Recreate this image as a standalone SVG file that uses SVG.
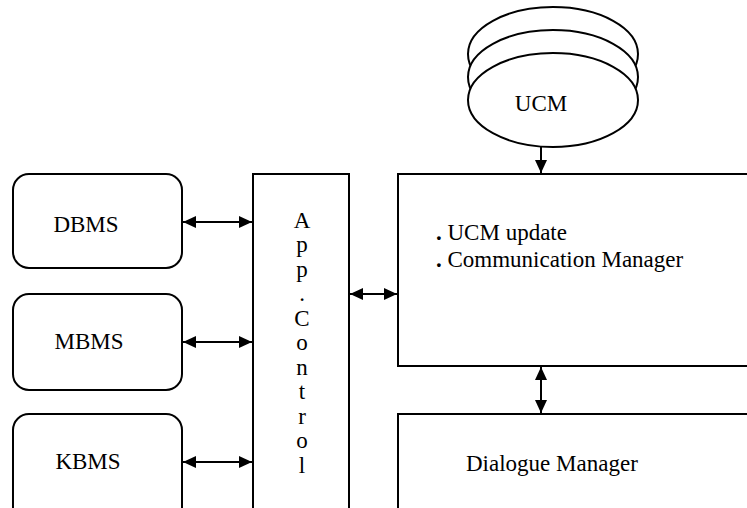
<svg xmlns="http://www.w3.org/2000/svg" width="747" height="508" viewBox="0 0 747 508">
<style>
.box{fill:#fff;stroke:#000;stroke-width:2}
.ell{fill:#fff;stroke:#000;stroke-width:2}
.t{font-family:'Liberation Serif','Times New Roman','DejaVu Serif',serif;font-size:23px;fill:#000}
.c{text-anchor:middle}
.ln{stroke:#000;stroke-width:2;fill:none}
</style>
<defs>
<marker id="ah" markerUnits="userSpaceOnUse" markerWidth="14" markerHeight="14" viewBox="0 0 14 14" refX="13" refY="7" orient="auto-start-reverse">
<path d="M0,1 L13,7 L0,13 z" fill="#000"/>
</marker>
</defs>
<rect width="747" height="508" fill="#fff"/>
<g id="ucm">
<ellipse class="ell" cx="553" cy="54" rx="85" ry="47"/>
<ellipse class="ell" cx="553" cy="77" rx="85" ry="47"/>
<ellipse class="ell" cx="553" cy="100" rx="85" ry="47"/>
<text class="t c" x="541" y="111">UCM</text>
</g>
<g id="dbms">
<rect class="box" x="13" y="174" width="169" height="94" rx="16"/>
<text class="t c" x="86" y="232">DBMS</text>
</g>
<g id="mbms">
<rect class="box" x="13" y="294" width="169" height="96" rx="16"/>
<text class="t c" x="89" y="349">MBMS</text>
</g>
<g id="kbms">
<rect class="box" x="13" y="414" width="169" height="110" rx="16"/>
<text class="t c" x="88" y="469">KBMS</text>
</g>
<g id="appcontrol">
<rect class="box" x="253" y="174" width="96" height="350"/>
<text class="t c" x="302" y="228">A</text>
<text class="t c" x="302" y="252">p</text>
<text class="t c" x="302" y="277">p</text>
<text class="t c" x="302" y="301">.</text>
<text class="t c" x="302" y="326">C</text>
<text class="t c" x="302" y="350">o</text>
<text class="t c" x="302" y="375">n</text>
<text class="t c" x="302" y="399">t</text>
<text class="t c" x="302" y="424">r</text>
<text class="t c" x="302" y="448">o</text>
<text class="t c" x="302" y="473">l</text>
</g>
<g id="ucmupdate">
<rect class="box" x="398" y="174" width="360" height="192"/>
<text class="t" x="436" y="240"><tspan font-weight="bold">.</tspan> UCM update</text>
<text class="t" x="436" y="267"><tspan font-weight="bold">.</tspan> Communication Manager</text>
</g>
<g id="dialogue">
<rect class="box" x="398" y="414" width="360" height="110"/>
<text class="t" x="466" y="471">Dialogue Manager</text>
</g>
<g id="connectors">
<line class="ln" x1="541" y1="147" x2="541" y2="173" marker-end="url(#ah)"/>
<line class="ln" x1="183" y1="222" x2="252" y2="222" marker-start="url(#ah)" marker-end="url(#ah)"/>
<line class="ln" x1="183" y1="342" x2="252" y2="342" marker-start="url(#ah)" marker-end="url(#ah)"/>
<line class="ln" x1="183" y1="462" x2="252" y2="462" marker-start="url(#ah)" marker-end="url(#ah)"/>
<line class="ln" x1="350" y1="294" x2="397" y2="294" marker-start="url(#ah)" marker-end="url(#ah)"/>
<line class="ln" x1="541" y1="367" x2="541" y2="413" marker-start="url(#ah)" marker-end="url(#ah)"/>
</g>
</svg>
